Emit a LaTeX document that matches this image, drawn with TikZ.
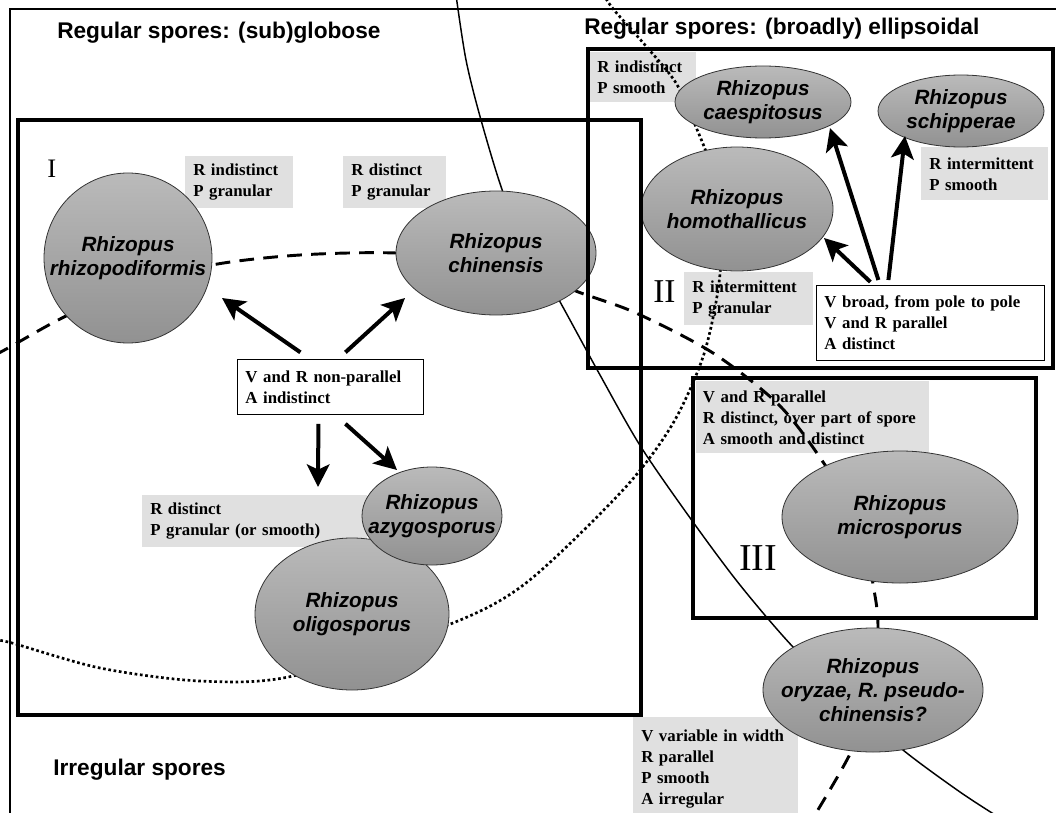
\documentclass[tikz,border=0pt]{standalone}
\usepackage{fontspec}
\setmainfont{Liberation Serif}
\newfontfamily\headfont{Liberation Sans}
\usetikzlibrary{shapes.geometric,arrows.meta}

\tikzset{
  spore/.style={ellipse, draw=black!80, line width=0.6pt, top color=black!27, bottom color=black!43, inner sep=0pt},
  sporetext/.style={inner sep=0pt, align=center, font=\headfont\bfseries\itshape\fontsize{15.5}{18}\selectfont},
  note/.style={fill=black!12, anchor=north west, align=left, inner xsep=6pt, inner ysep=0pt,
    font=\bfseries\fontsize{12.6}{15.75}\selectfont},
  keybox/.style={note, fill=white, draw, line width=0.6pt},
  frame/.style={line width=2.4pt},
  heavy/.style={line width=3pt, -{Stealth[length=17pt,width=17pt,inset=4pt]}},
  title/.style={anchor=base west, inner sep=0pt, font=\headfont\bfseries\fontsize{17}{20}\selectfont},
  numeral/.style={anchor=base west, inner sep=0pt}
}

\begin{document}
\begin{tikzpicture}[x=0.75pt,y=-0.75pt]
\useasboundingbox (0,0) rectangle (1056,813);
\clip (0,0) rectangle (1056,813);

% outer frame
\draw[line width=1.8pt] (10,9) rectangle (1080,840);

% grey notes
\node[note, text width=69pt, minimum height=39pt] (rind) at (185,156) {R indistinct\\P granular};
\node[note, text width=65.25pt, minimum height=39pt] (rdist) at (343,156) {R distinct\\P granular};
\node[note, text width=68.25pt, minimum height=37.5pt] (rsmooth) at (589,52) {R indistinct\\P smooth};
\node[note, text width=83.25pt, minimum height=39.75pt] (rinterm) at (921,147) {R intermittent\\P smooth};
\node[note, text width=84.75pt, minimum height=39.75pt] (rgran) at (684,272) {R intermittent\\P granular};
\node[note, inner xsep=5pt, text width=164.75pt, minimum height=54pt] (vrpar) at (696,381) {V and R parallel\\R distinct, over part of spore\\A smooth and distinct};
\node[note, text width=156.75pt, minimum height=39pt] (rorsm) at (142,495) {R distinct\\P granular (or smooth)};
\node[note, text width=111.75pt, minimum height=78pt] (vvar) at (633,717) {V variable in width\\R parallel\\P smooth\\A irregular};

% the three boundary lines
\draw[line width=1.1pt] plot[smooth] coordinates {(456,-5) (466,60) (481,120) (504,195) (530,250) (559,300) (600,375) (641,447) (693,522) (740,585) (793,647) (850,702) (903,750) (960,792) (1000,818)};
\draw[line width=2.2pt, dash pattern=on 11pt off 7pt] plot[smooth] coordinates {(-5,355) (10,347) (62,318) (128,288) (212,265) (300,255) (396,253) (496,262) (581,293) (636,313) (713,353) (779,405) (823,462) (860,525) (874,590) (878,627) (874,690) (851,752) (813,818)};
\draw[line width=2pt, dash pattern=on 2pt off 2pt] plot[smooth] coordinates {(-5,640) (12,643) (100,668) (200,681) (293,676) (448,625) (526,583) (623,490) (672,425) (703,357) (718,290) (722,230) (712,170) (696,127) (676,83) (645,45) (614,10) (605,-3)};

% spores
\node[spore, minimum width=126pt, minimum height=127.5pt] (rhizo) at (128,258) {};
\node[sporetext] (rhizo-lbl) at (rhizo) {Rhizopus\\rhizopodiformis};
\node[spore, minimum width=150pt, minimum height=93pt] (chin) at (496,253) {};
\node[sporetext] (chin-lbl) at (chin) {Rhizopus\\chinensis};
\node[spore, minimum width=132pt, minimum height=54pt] (caesp) at (763,102) {};
\node[sporetext] (caesp-lbl) at (caesp) {Rhizopus\\caespitosus};
\node[spore, minimum width=124.5pt, minimum height=54pt] (schip) at (961,111) {};
\node[sporetext] (schip-lbl) at (schip) {Rhizopus\\schipperae};
\node[spore, minimum width=144pt, minimum height=93pt] (homo) at (737,209) {};
\node[sporetext] (homo-lbl) at (homo) {Rhizopus\\homothallicus};
\node[spore, minimum width=145.5pt, minimum height=114pt] (oligo) at (352,614) {};
\node[sporetext] (oligo-lbl) at (oligo) {Rhizopus\\oligosporus};
\node[spore, minimum width=105pt, minimum height=73.5pt] (azygo) at (432,516) {};
\node[sporetext] (azygo-lbl) at (azygo) {Rhizopus\\azygosporus};
\node[spore, minimum width=177pt, minimum height=99pt] (micro) at (900,517) {};
\node[sporetext] (micro-lbl) at (micro) {Rhizopus\\microsporus};
\node[spore, minimum width=165pt, minimum height=93pt] (oryz) at (873,690) {};
\node[sporetext] (oryz-lbl) at (oryz) {Rhizopus\\oryzae, R. pseudo-\\chinensis?};

% groups I, II, III
\draw[frame] (18,120) rectangle (641,715);
\draw[frame] (588,49) rectangle (1053,368);
\draw[frame] (693,378) rectangle (1036,618);

% key boxes
\node[keybox, text width=127.5pt, minimum height=41.25pt] (nonpar) at (237,359) {V and R non-parallel\\A indistinct};
\node[keybox, text width=159pt, minimum height=56.25pt] (broad) at (816,285) {V broad, from pole to pole\\V and R parallel\\A distinct};

% arrows
\coordinate (t1) at (222,298);
\coordinate (t2) at (405,298);
\coordinate (t3) at (318,487);
\coordinate (t4) at (397,470);
\coordinate (u1) at (824,238);
\coordinate (u2) at (830,128);
\coordinate (u3) at (905,136);
\draw[heavy] ([xshift=-22.5pt,yshift=5pt]nonpar.north) -- (t1);
\draw[heavy] ([xshift=11.25pt,yshift=5pt]nonpar.north) -- (t2);
\draw[heavy] ([xshift=-9pt,yshift=-6.75pt]nonpar.south) -- (t3);
\draw[heavy] ([xshift=11.25pt,yshift=-6.75pt]nonpar.south) -- (t4);
\draw[heavy] ([xshift=-45pt,yshift=2.25pt]broad.north) -- (u1);
\draw[heavy] ([xshift=-39pt,yshift=3.75pt]broad.north) -- (u2);
\draw[heavy] ([xshift=-31.5pt,yshift=3.75pt]broad.north) -- (u3);

% titles and numerals
\node[title] (tglob) at (57,39) {Regular spores: (sub)globose};
\node[title] (tellip) at (584,35) {Regular spores: (broadly) ellipsoidal};
\node[title] (tirreg) at (53,775) {Irregular spores};
\node[numeral, font=\fontsize{20}{20}\selectfont] (numI) at (47,178) {I};
\node[numeral, font=\fontsize{25}{25}\selectfont] (numII) at (653,302) {II};
\node[numeral, font=\fontsize{28.5}{28.5}\selectfont] (numIII) at (739,570) {III};
\end{tikzpicture}
\end{document}
